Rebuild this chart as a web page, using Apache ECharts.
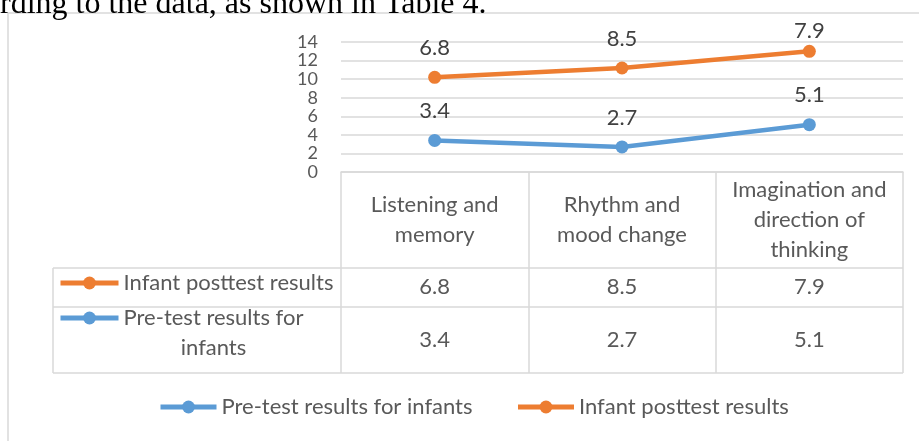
<!DOCTYPE html>
<html>
<head>
<meta charset="utf-8">
<script src="https://cdn.jsdelivr.net/npm/echarts@6/dist/echarts.min.js"></script>
<style>
  html, body { margin: 0; padding: 0; background: #fff; }
  #main { width: 919px; height: 441px; }
</style>
</head>
<body>
<div id="main"></div>
<script>
// data
var categories = ['Listening and\nmemory', 'Rhythm and\nmood change', 'Imagination and\ndirection of\nthinking'];
var seriesNames = ['Pre-test results for infants', 'Infant posttest results'];
var pretest = [3.4, 2.7, 5.1];
var posttest = [6.8, 8.5, 7.9];
var yTicks = {min: 0, max: 14, interval: 2};

var BLUE = '#5B9BD5', ORANGE = '#ED7D31', GREY = '#595959', RULE = '#D9D9D9';
var FONT = 'Lato';
var FS = 22;

var myChart = echarts.init(document.getElementById('main'));

// table rows below the plot (y of row boundaries)
var plotLeft = 341, plotRight = 903, tableLeft = 53;
var rowLines = [268, 307, 373];
var rowTextWidth = 214;

// wrap a legend name into lines that fit the row label cell
var ctx = document.createElement('canvas').getContext('2d');
ctx.font = FS + 'px ' + FONT;
function wrap(text, width) {
    var words = text.split(' '), lines = [], cur = '';
    words.forEach(function (w) {
        var t = cur ? cur + ' ' + w : w;
        if (cur && ctx.measureText(t).width > width) {
            lines.push(cur);
            cur = w;
        } else {
            cur = t;
        }
    });
    lines.push(cur);
    return lines;
}

function valueAxis(values, margin) {
    return {
        type: 'category',
        gridIndex: 0,
        position: 'bottom',
        data: values.map(function (v) { return v.toFixed(1); }),
        axisLine: {show: false},
        axisTick: {show: false},
        splitLine: {show: false},
        axisLabel: {
            interval: 0,
            margin: margin,
            verticalAlign: 'middle',
            color: GREY,
            fontFamily: FONT,
            fontSize: FS
        }
    };
}

// one legend per table row; the icon sits on the first line of the name
function rowLegend(name, iconY) {
    var lines = wrap(name, rowTextWidth);
    var boxW = Math.ceil(Math.max.apply(null, lines.map(function (l) { return ctx.measureText(l).width; })));
    // blank lines on top keep the first line level with the icon
    var pad = lines.length - 1;
    return {
        data: [name],
        left: 58,
        top: iconY - 15 - pad * 30,
        padding: 0,
        itemWidth: 58,
        itemHeight: 16,
        selectedMode: false,
        lineStyle: {width: 5},
        formatter: function (n) {
            var out = [];
            for (var i = 0; i < pad; i++) out.push('{a| }');
            return out.concat(lines.map(function (l) { return '{a|' + l + '}'; })).join('\n');
        },
        textStyle: {
            color: GREY,
            fontFamily: FONT,
            fontSize: FS,
            rich: {a: {width: boxW, align: 'center', color: GREY, fontFamily: FONT, fontSize: FS, lineHeight: 30}}
        }
    };
}

var graphics = [
    {type: 'rect', shape: {x: 8, y: 13, width: 930, height: 450}, style: {fill: null, stroke: RULE, lineWidth: 1.5}, silent: true},
    {type: 'text', left: 0, top: -11, style: {text: 'rding to the data, as shown in Table 4.', font: '32px "Liberation Serif"', fill: '#000'}, silent: true},
    {type: 'line', shape: {x1: tableLeft, y1: rowLines[0], x2: tableLeft, y2: rowLines[2]}, style: {stroke: RULE, lineWidth: 1.5}, silent: true}
];
rowLines.forEach(function (y) {
    graphics.push({type: 'line', shape: {x1: tableLeft, y1: y, x2: plotRight, y2: y}, style: {stroke: RULE, lineWidth: 1.5}, silent: true});
});

var labelStyle = {show: true, position: 'top', distance: 12, color: '#404040', fontFamily: FONT, fontSize: FS};

// keep data labels inside the chart frame, as the original does
function clampLabel(params) {
    var minTop = 20;
    return {dy: Math.max(0, minTop - params.labelRect.y)};
}

var option = {
    animation: false,
    backgroundColor: '#fff',
    grid: {left: plotLeft, right: 919 - plotRight, top: 42, bottom: 441 - 172},
    legend: [
        {
            data: seriesNames,
            left: 158,
            top: 396,
            padding: 0,
            itemWidth: 56,
            itemHeight: 16,
            itemGap: 43,
            selectedMode: false,
            lineStyle: {width: 5},
            textStyle: {color: GREY, fontFamily: FONT, fontSize: FS}
        },
        rowLegend(seriesNames[1], 287),
        rowLegend(seriesNames[0], 322)
    ],
    xAxis: [
        {
            type: 'category',
            data: categories,
            boundaryGap: true,
            axisLine: {lineStyle: {color: RULE, width: 1.5}},
            axisTick: {show: true, length: rowLines[2] - 172, lineStyle: {color: RULE, width: 1.5}},
            splitLine: {show: false},
            axisLabel: {
                interval: 0,
                margin: 48,
                verticalAlign: 'middle',
                lineHeight: 30,
                color: GREY,
                fontFamily: FONT,
                fontSize: FS
            }
        },
        valueAxis(posttest, 115),
        valueAxis(pretest, 168)
    ],
    yAxis: {
        type: 'value',
        min: yTicks.min,
        max: yTicks.max,
        interval: yTicks.interval,
        axisLine: {show: false},
        axisTick: {show: false},
        splitLine: {lineStyle: {color: RULE, width: 1.5}},
        axisLabel: {
            margin: 23, color: GREY, fontFamily: FONT, fontSize: 18, lineHeight: 12,
            showMinLabel: true, showMaxLabel: true, hideOverlap: false
        }
    },
    series: [
        {
            name: seriesNames[0],
            type: 'line',
            stack: 'total',
            data: pretest,
            symbol: 'circle',
            symbolSize: 13,
            lineStyle: {color: BLUE, width: 4.5},
            itemStyle: {color: BLUE},
            label: labelStyle,
            labelLayout: clampLabel
        },
        {
            name: seriesNames[1],
            type: 'line',
            stack: 'total',
            data: posttest,
            symbol: 'circle',
            symbolSize: 13,
            lineStyle: {color: ORANGE, width: 4.5},
            itemStyle: {color: ORANGE},
            label: labelStyle,
            labelLayout: clampLabel
        }
    ],
    graphic: graphics
};

myChart.setOption(option);
</script>
</body>
</html>
